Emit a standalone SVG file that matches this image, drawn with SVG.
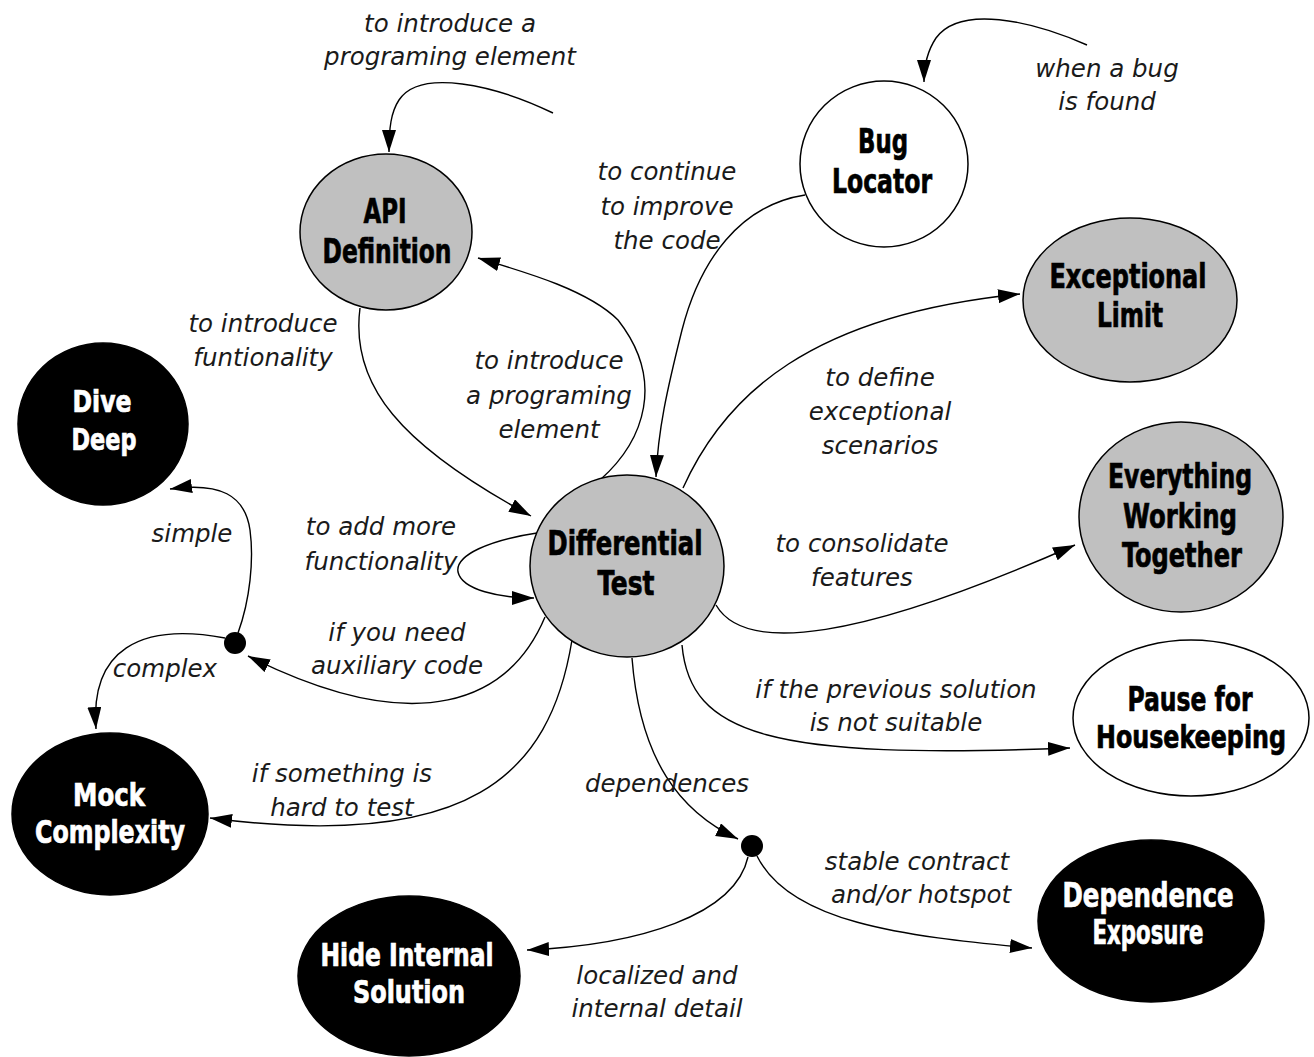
<svg xmlns="http://www.w3.org/2000/svg" width="1314" height="1057" viewBox="0 0 1314 1057">
<style>
.n{stroke:#000;stroke-width:1.5}
.g{fill:#c0c0c0}
.w{fill:#fff}
.b{fill:#000}
.t{font-family:"DejaVu Sans Condensed","DejaVu Sans",sans-serif;font-weight:bold;font-size:34px;text-anchor:middle;stroke-width:0.7}
.tb{fill:#000;stroke:#000}
.tw{fill:#fff;stroke:#fff}
.l{font-family:"DejaVu Sans","Liberation Sans",sans-serif;font-style:italic;font-size:24.5px;fill:#1a1a1a;text-anchor:middle}
.c path{fill:none;stroke:#000;stroke-width:1.4;marker-end:url(#ah)}
</style>
<defs>
<marker id="ah" markerUnits="userSpaceOnUse" markerWidth="24" markerHeight="16" refX="22" refY="7" orient="auto">
<path d="M0,0 L22,7 L0,14 z" fill="#000"/>
</marker>
</defs>
<rect width="1314" height="1057" fill="#fff"/>
<g id="connectors" class="c">
<path d="M553,113 C495,85 420,68 399,100 C391,112 389,128 389,152"/>
<path d="M1087,45 C1030,20 960,5 936,38 C928,50 924,64 924,82"/>
<path d="M805,195 C740,205 700,260 682,330 C667,390 658,430 656,477"/>
<path d="M600,480 C645,440 665,380 618,320 C588,290 525,272 478,258"/>
<path d="M360,308 C350,385 400,445 531,516"/>
<path d="M683,488 C725,395 810,315 1020,294"/>
<path d="M716,605 C745,655 860,640 1075,545"/>
<path d="M682,645 C690,735 770,760 1070,748"/>
<path d="M632,658 C640,760 680,812 738,839"/>
<path d="M757,856 C790,922 900,936 1032,948"/>
<path d="M748,857 C735,915 640,945 527,950"/>
<path d="M572,640 C550,775 470,852 210,818"/>
<path d="M545,617 C510,700 420,742 248,656"/>
<path d="M238,633 C250,600 254,560 250,530 C245,495 220,482 170,489"/>
<path d="M225,638 C140,622 90,650 96,729"/>
<path d="M537,533 C490,540 455,555 458,572 C462,590 500,598 534,598"/>
<circle cx="235" cy="643" r="11" fill="#000"/>
<circle cx="752" cy="846" r="11" fill="#000"/>
</g>
<g id="api-definition">
<ellipse class="n g" cx="386" cy="232" rx="86" ry="78"/>
<text class="t tb" x="385" y="223" textLength="43" lengthAdjust="spacingAndGlyphs">API</text>
<text class="t tb" x="387" y="263" textLength="129" lengthAdjust="spacingAndGlyphs">Definition</text>
</g>
<g id="bug-locator">
<ellipse class="n w" cx="884" cy="164" rx="84" ry="83"/>
<text class="t tb" x="883" y="153" textLength="50" lengthAdjust="spacingAndGlyphs">Bug</text>
<text class="t tb" x="882" y="193" textLength="100" lengthAdjust="spacingAndGlyphs">Locator</text>
</g>
<g id="exceptional-limit">
<ellipse class="n g" cx="1130" cy="300" rx="107" ry="82"/>
<text class="t tb" x="1128" y="288" textLength="157" lengthAdjust="spacingAndGlyphs">Exceptional</text>
<text class="t tb" x="1130" y="327" textLength="66" lengthAdjust="spacingAndGlyphs">Limit</text>
</g>
<g id="dive-deep">
<ellipse class="n b" cx="103" cy="424" rx="85" ry="81"/>
<text class="t tw" x="102" y="412" textLength="59" lengthAdjust="spacingAndGlyphs" style="font-size:31px">Dive</text>
<text class="t tw" x="104" y="450" textLength="65" lengthAdjust="spacingAndGlyphs" style="font-size:31px">Deep</text>
</g>
<g id="everything-working-together">
<ellipse class="n g" cx="1181" cy="517" rx="102" ry="95"/>
<text class="t tb" x="1180" y="488" textLength="144" lengthAdjust="spacingAndGlyphs">Everything</text>
<text class="t tb" x="1180" y="528" textLength="114" lengthAdjust="spacingAndGlyphs">Working</text>
<text class="t tb" x="1182" y="567" textLength="120" lengthAdjust="spacingAndGlyphs">Together</text>
</g>
<g id="differential-test">
<ellipse class="n g" cx="627" cy="566" rx="97" ry="91"/>
<text class="t tb" x="625" y="555" textLength="155" lengthAdjust="spacingAndGlyphs">Differential</text>
<text class="t tb" x="626" y="595" textLength="57" lengthAdjust="spacingAndGlyphs">Test</text>
</g>
<g id="pause-for-housekeeping">
<ellipse class="n w" cx="1191" cy="718" rx="118" ry="78"/>
<text class="t tb" x="1190" y="711" textLength="125" lengthAdjust="spacingAndGlyphs">Pause for</text>
<text class="t tb" x="1191" y="748" textLength="190" lengthAdjust="spacingAndGlyphs" style="font-size:32px">Housekeeping</text>
</g>
<g id="mock-complexity">
<ellipse class="n b" cx="110" cy="814" rx="98" ry="81"/>
<text class="t tw" x="109" y="806" textLength="72" lengthAdjust="spacingAndGlyphs" style="font-size:32px">Mock</text>
<text class="t tw" x="110" y="843" textLength="150" lengthAdjust="spacingAndGlyphs" style="font-size:32px">Complexity</text>
</g>
<g id="dependence-exposure">
<ellipse class="n b" cx="1151" cy="921" rx="113" ry="81"/>
<text class="t tw" x="1148" y="907" textLength="171" lengthAdjust="spacingAndGlyphs">Dependence</text>
<text class="t tw" x="1148" y="944" textLength="111" lengthAdjust="spacingAndGlyphs">Exposure</text>
</g>
<g id="hide-internal-solution">
<ellipse class="n b" cx="409" cy="976" rx="111" ry="80"/>
<text class="t tw" x="407" y="966" textLength="173" lengthAdjust="spacingAndGlyphs" style="font-size:32px">Hide Internal</text>
<text class="t tw" x="409" y="1003" textLength="112" lengthAdjust="spacingAndGlyphs" style="font-size:32px">Solution</text>
</g>
<g id="labels">
<text class="l" x="450" y="32">to introduce a</text>
<text class="l" x="450" y="65">programing element</text>
<text class="l" x="1107" y="77">when a bug</text>
<text class="l" x="1107" y="110">is found</text>
<text class="l" x="667" y="180">to continue</text>
<text class="l" x="667" y="215">to improve</text>
<text class="l" x="667" y="249">the code</text>
<text class="l" x="263" y="332">to introduce</text>
<text class="l" x="263" y="366">funtionality</text>
<text class="l" x="549" y="369">to introduce</text>
<text class="l" x="549" y="404">a programing</text>
<text class="l" x="549" y="438">element</text>
<text class="l" x="880" y="386">to define</text>
<text class="l" x="880" y="420">exceptional</text>
<text class="l" x="880" y="454">scenarios</text>
<text class="l" x="192" y="542">simple</text>
<text class="l" x="381" y="535">to add more</text>
<text class="l" x="381" y="570">functionality</text>
<text class="l" x="862" y="552">to consolidate</text>
<text class="l" x="862" y="586">features</text>
<text class="l" x="397" y="641">if you need</text>
<text class="l" x="397" y="674">auxiliary code</text>
<text class="l" x="165" y="677">complex</text>
<text class="l" x="896" y="698">if the previous solution</text>
<text class="l" x="896" y="731">is not suitable</text>
<text class="l" x="342" y="782">if something is</text>
<text class="l" x="342" y="816">hard to test</text>
<text class="l" x="667" y="792">dependences</text>
<text class="l" x="917" y="870">stable contract</text>
<text class="l" x="921" y="903">and/or hotspot</text>
<text class="l" x="657" y="984">localized and</text>
<text class="l" x="657" y="1017">internal detail</text>
</g>
</svg>
